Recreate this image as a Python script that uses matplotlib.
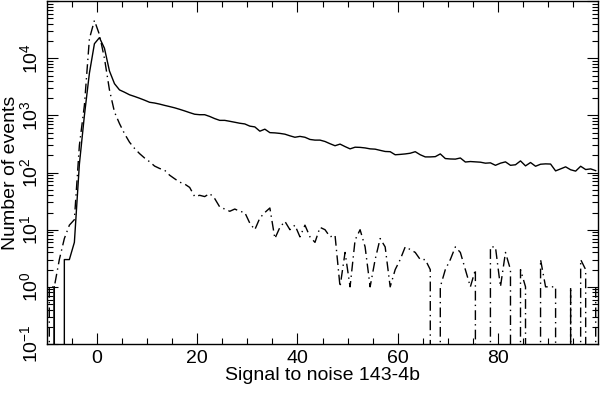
import numpy as np
import matplotlib
matplotlib.use("Agg")
from matplotlib import pyplot as plt
from matplotlib.ticker import FixedLocator, LogLocator, NullFormatter

# bin centres, 1 unit wide
snr = np.arange(-10.5, 100.0, 1.0)

# solid curve
events_all = [0, 0, 1, 0, 3, 3, 6, 140, 1000, 5500, 18000,
              23000, 15000, 6000, 3600, 2800, 2550, 2300, 2150, 2000, 1850,
              1700, 1650, 1580, 1500, 1430, 1360, 1280, 1200, 1120, 1050,
              1030, 1030, 960, 880, 820, 820, 790, 760, 730, 710,
              650, 630, 530, 575, 500, 495, 485, 470, 440, 415,
              430, 415, 380, 370, 370, 350, 320, 295, 315, 285,
              260, 278, 276, 270, 260, 257, 245, 234, 232, 205,
              208, 212, 218, 232, 205, 188, 188, 190, 212, 176,
              173, 172, 180, 153, 156, 154, 152, 146, 148, 134,
              146, 154, 134, 137, 160, 131, 150, 129, 140, 142,
              141, 107, 116, 126, 112, 106, 129, 113, 116, 108]

# dash-dot curve
events_cut = [0, 1, 1, 3, 7, 12, 15, 300, 1500, 22000, 46000,
              26000, 10000, 2800, 1150, 720, 480, 340, 265, 215, 180,
              155, 130, 118, 110, 90, 78, 68, 63, 55, 38,
              40, 38, 43, 35, 25, 23, 21, 23, 21, 20,
              13, 10, 16, 20, 24, 7, 11, 14, 10, 12,
              7.5, 12, 7.5, 6, 11, 10, 7.5, 8, 1, 4,
              1, 6.6, 10, 5, 1, 3, 7, 5, 1, 2,
              3, 5, 4.5, 4, 3, 3, 2, 0, 1, 2,
              3, 5, 4, 2, 1, 2, 0, 0, 5, 5,
              1, 4, 2, 0, 2, 1, 0, 0, 3, 1,
              1, 1, 0, 0, 1, 0, 3, 2, 0, 1]

xticks = [0, 20, 40, 60, 80]
yticks = [1e-1, 1e0, 1e1, 1e2, 1e3, 1e4, 1e5]
ylabels = ['10$^{-1}$', '10$^{0}$', '10$^{1}$', '10$^{2}$', '10$^{3}$', '10$^{4}$', '']

plt.rcParams['font.family'] = 'Liberation Sans'
plt.rcParams['mathtext.fontset'] = 'custom'
plt.rcParams['mathtext.rm'] = 'Liberation Sans'
plt.rcParams['mathtext.default'] = 'regular'

fig = plt.figure(figsize=(6, 3.94), dpi=100)
ax = fig.add_axes([0.078, 0.127, 0.919, 0.87])

ax.plot(snr, events_all, color='black', lw=1.0)
ax.plot(snr, events_cut, color='black', lw=1.0, linestyle=(0, (7, 3, 1, 3)))

ax.set_yscale('log', nonpositive='clip')
ax.set_xlim(-10, 100)
ax.set_ylim(1e-1, 1e5)

ax.xaxis.set_major_locator(FixedLocator(xticks))
ax.xaxis.set_minor_locator(FixedLocator(np.arange(-5, 100, 5)))
ax.yaxis.set_major_locator(FixedLocator(yticks))
ax.set_yticklabels(ylabels, rotation=90, va='center')
ax.yaxis.set_minor_locator(LogLocator(base=10, subs=np.arange(2, 10)))
ax.yaxis.set_minor_formatter(NullFormatter())

ax.tick_params(which='both', direction='in', top=True, right=True,
               labelsize=14, color='black')
ax.tick_params(which='major', length=8, width=0.8, pad=4)
ax.tick_params(which='minor', length=4, width=0.8)
for s in ax.spines.values():
    s.set_linewidth(1.0)

ax.set_xlabel('Signal to noise 143-4b', fontsize=14, labelpad=0)
fig.text(0.004, 0.56, 'Number of events', fontsize=14, rotation=90,
         ha='left', va='center')

fig.savefig('out.png', dpi=100)
